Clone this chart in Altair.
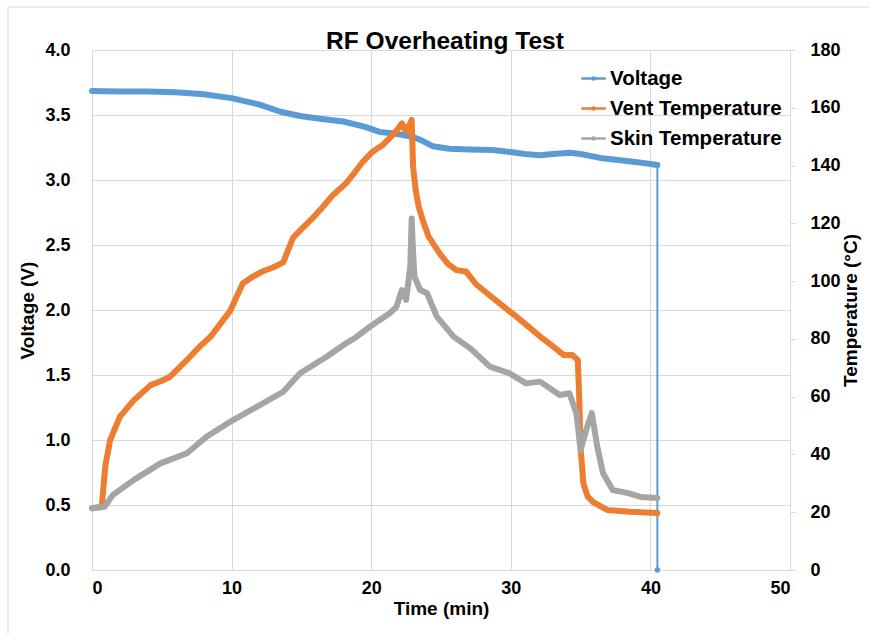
import altair as alt
import pandas as pd

# Battery voltage trace (time in minutes, volts); the last point is the cut-off
time_volt = [0.0, 2.0, 4.0, 6.0, 8.0, 10.0, 12.0, 13.5, 15.0, 16.5, 18.0, 19.5,
             20.6, 21.5, 22.1, 23.0, 23.5, 24.4, 25.6, 27.0, 28.7, 30.0, 31.0,
             32.1, 33.0, 34.2, 35.0, 36.4, 38.0, 39.5, 40.5, 40.5]
voltage = [3.685, 3.68, 3.68, 3.675, 3.66, 3.63, 3.58, 3.525, 3.49, 3.47, 3.45,
           3.41, 3.37, 3.36, 3.35, 3.33, 3.31, 3.26, 3.24, 3.235, 3.23, 3.215,
           3.2, 3.19, 3.2, 3.21, 3.2, 3.17, 3.15, 3.13, 3.115, 0.0]

# Vent temperature (deg C)
time_vent = [0.0, 0.7, 0.95, 1.3, 2.0, 3.0, 4.2, 5.0, 5.6, 6.8, 7.7, 8.5, 9.9,
             10.8, 11.5, 12.2, 13.0, 13.7, 14.4, 15.0, 15.8, 16.5, 17.2, 18.2,
             18.8, 19.4, 20.1, 20.8, 21.3, 21.8, 22.2, 22.5, 22.9, 23.0, 23.2,
             23.4, 23.7, 24.1, 24.9, 25.5, 26.1, 26.8, 27.5, 28.3, 29.2, 30.4,
             31.2, 32.1, 33.0, 33.8, 34.4, 34.8, 34.9, 35.0, 35.2, 35.5, 35.9,
             36.9, 38.5, 40.5]
vent_temp = [21.4, 21.9, 35.8, 45.0, 53.1, 58.8, 64.0, 65.5, 66.9, 72.7, 77.3,
             80.8, 89.7, 99.2, 101.5, 103.3, 104.8, 106.5, 115.0, 118.0, 121.8,
             125.5, 129.5, 133.9, 137.5, 141.3, 144.8, 147.0, 149.4, 152.0,
             154.6, 151.7, 155.8, 139.6, 131.0, 125.8, 121.0, 115.5, 109.6,
             106.0, 103.8, 103.3, 99.0, 95.8, 92.3, 87.7, 84.5, 80.8, 77.5,
             74.4, 74.4, 72.7, 60.0, 42.0, 30.0, 25.5, 23.5, 20.8, 20.2, 19.7]

# Skin temperature (deg C)
time_skin = [0.0, 0.9, 1.5, 3.0, 4.9, 6.8, 8.2, 10.1, 11.8, 13.7, 14.9, 16.8,
             18.2, 18.8, 19.9, 21.3, 21.8, 22.2, 22.5, 22.8, 22.9, 23.0, 23.1,
             23.5, 24.0, 24.7, 25.9, 27.1, 28.5, 29.9, 31.1, 32.1, 33.5, 34.2,
             34.7, 35.0, 35.4, 35.8, 36.2, 36.6, 37.3, 38.4, 39.3, 40.5]
skin_temp = [21.4, 21.9, 26.0, 31.2, 36.9, 40.4, 46.1, 51.9, 56.5, 61.7, 68.1,
             73.8, 78.5, 80.2, 84.2, 88.8, 91.0, 96.9, 93.5, 105.0, 121.7, 110.0,
             101.5, 97.0, 95.8, 87.7, 80.8, 76.7, 70.4, 68.1, 64.6, 65.2, 60.6,
             61.2, 54.2, 41.5, 48.5, 54.3, 42.6, 33.6, 27.7, 26.6, 25.3, 24.9]

series_names = ["Voltage", "Vent Temperature", "Skin Temperature"]
series_colors = ["#5b9bd5", "#ed7d31", "#a5a5a5"]
chart_title = "RF Overheating Test"

x_ticks = [0, 10, 20, 30, 40, 50]
volt_ticks = [0, 0.5, 1.0, 1.5, 2.0, 2.5, 3.0, 3.5, 4.0]
temp_ticks = [0, 20, 40, 60, 80, 100, 120, 140, 160, 180]

volt_df = pd.DataFrame({"time": time_volt[:-1], "value": voltage[:-1],
                        "series": "Voltage"})
drop_df = pd.DataFrame({"time": time_volt[-2:], "value": voltage[-2:]})
temp_df = pd.concat([
    pd.DataFrame({"time": time_vent, "value": vent_temp,
                  "series": "Vent Temperature"}),
    pd.DataFrame({"time": time_skin, "value": skin_temp,
                  "series": "Skin Temperature"}),
])

FONT = "Liberation Sans"
GRID = "#d9d9d9"

x_enc = alt.X("time:Q",
              scale=alt.Scale(domain=[0, 50], nice=False, zero=False),
              axis=alt.Axis(values=x_ticks, title="Time (min)", grid=True,
                            gridColor=GRID, domainColor=GRID, ticks=False,
                            labelPadding=9, titlePadding=2,
                            labelFontSize=18, titleFontSize=19))

color_enc = alt.Color(
    "series:N",
    scale=alt.Scale(domain=series_names, range=series_colors),
    sort=series_names,
    legend=alt.Legend(
        title=None, orient="none", legendX=488, legendY=15,
        symbolType="M-1,0H1M0.09,0A0.09,0.09,0,1,1,-0.09,0A0.09,0.09,0,1,1,0.09,0",
        symbolSize=600, symbolStrokeWidth=2.5, labelFontSize=20.5,
        labelFont=FONT, labelFontWeight="bold", labelColor="#000000",
        labelOffset=3, rowPadding=6, labelLimit=400,
    ),
)

volt_scale = alt.Scale(domain=[0, 4], nice=False)
volt_axis = alt.Axis(orient="left", values=volt_ticks, format=".1f",
                     title="Voltage (V)", grid=True, gridColor=GRID,
                     ticks=False, domain=False, labelPadding=22,
                     titlePadding=7, labelFontSize=18, titleFontSize=19)

volt_line = alt.Chart(volt_df).mark_line(
    strokeWidth=6, strokeCap="round", strokeJoin="round"
).encode(
    x=x_enc,
    y=alt.Y("value:Q", scale=volt_scale, axis=volt_axis),
    color=color_enc,
)

volt_drop = alt.Chart(drop_df).mark_line(
    strokeWidth=2, color=series_colors[0],
    point=alt.OverlayMarkDef(filled=True, size=30, color=series_colors[0]),
).encode(
    x=alt.X("time:Q"),
    y=alt.Y("value:Q", scale=volt_scale, axis=volt_axis),
)

temp_line = alt.Chart(temp_df).mark_line(
    strokeWidth=6, strokeCap="round", strokeJoin="round"
).encode(
    x=x_enc,
    y=alt.Y("value:Q", scale=alt.Scale(domain=[0, 180], nice=False),
            axis=alt.Axis(orient="right", values=temp_ticks,
                          title="Temperature (°C)", grid=False,
                          domainColor=GRID, tickColor=GRID, tickSize=5,
                          labelPadding=15, titlePadding=20, titleAngle=270,
                          labelFontSize=18, titleFontSize=19)),
    color=color_enc,
    order=alt.Order("series:N"),
)

# Light frame around the chart area
frame = alt.Chart(pd.DataFrame({"k": [0]})).mark_rect(
    fill=None, stroke=GRID, strokeWidth=1
).encode(
    x=alt.value(-84), x2=alt.value(800),
    y=alt.value(-43), y2=alt.value(620),
)

# Chart heading, centred just above the plot area
heading = alt.Chart(pd.DataFrame({"label": [chart_title]})).mark_text(
    font=FONT, fontSize=24.5, fontWeight="bold", color="#000000",
    align="center", baseline="alphabetic",
).encode(
    text="label:N",
    x=alt.value(353), y=alt.value(-1),
)

chart = alt.layer(
    frame,
    heading,
    alt.layer(volt_drop, volt_line),
    temp_line,
).resolve_scale(y="independent").properties(
    width=698, height=520,
    padding={"left": 92, "top": 50, "right": 79, "bottom": 64},
    autosize=alt.AutoSizeParams(type="none"),
).configure_axis(
    labelFont=FONT, titleFont=FONT, labelFontWeight="bold",
    titleFontWeight="bold", labelColor="#000000", titleColor="#000000",
).configure_view(stroke=None)

chart.save("out.html", embed_options={"renderer": "svg", "actions": False})
